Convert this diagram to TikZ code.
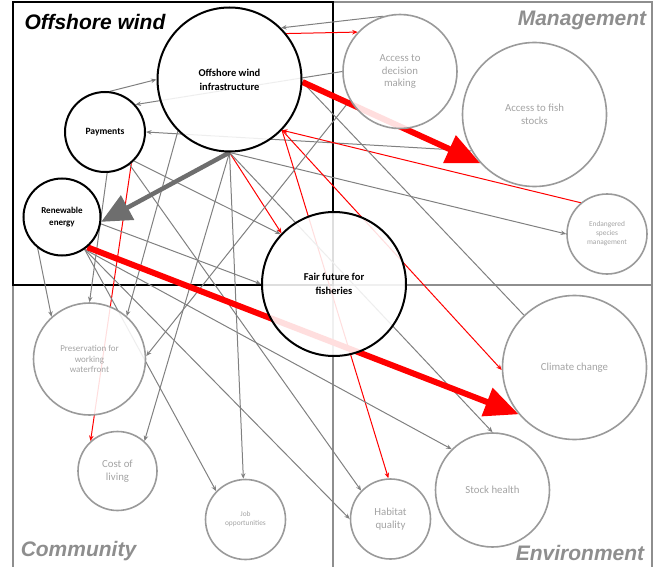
\documentclass[tikz,border=0pt]{standalone}
\usepackage{fontspec}
\setmainfont{Carlito}
\newfontfamily\labfont{Liberation Sans}
\usetikzlibrary{arrows.meta}
\pgfdeclarelayer{bg}
\pgfsetlayers{bg,main}
\definecolor{edgegray}{HTML}{808080}
\definecolor{circgray}{HTML}{9A9A9A}
\definecolor{txtgray}{HTML}{A4A4A4}
\definecolor{quadgray}{HTML}{8E8E8E}
\definecolor{thickg}{HTML}{6E6E6E}
\tikzset{
  blk/.style={circle,draw=black,line width=2pt,fill=white,fill opacity=0.87,text opacity=1,inner sep=0pt,align=center,font=\bfseries\fontsize{10.5}{14}\selectfont},
  gry/.style={circle,draw=circgray,line width=1.6pt,fill=white,fill opacity=0.87,text opacity=1,inner sep=0pt,align=center,text=txtgray,font=\fontsize{10.8}{12.8}\selectfont},
  ge/.style={draw=edgegray,line width=1pt,-{Stealth[length=5.5pt,width=4.5pt]}},
  gl/.style={draw=edgegray,line width=1pt},
  rd/.style={draw=red,line width=1pt,-{Stealth[length=5.5pt,width=4.5pt]}},
  thickred/.style={draw=red,line width=6pt,-{Triangle[length=34pt,width=29pt]}},
  thickgray/.style={draw=thickg,line width=4.5pt,-{Triangle[length=30pt,width=27pt]}},
  quad/.style={font=\labfont\bfseries\itshape\fontsize{21}{21}\selectfont,inner sep=0pt}
}
\begin{document}
\begin{tikzpicture}[x=1pt,y=-1pt]
\useasboundingbox (0,0) rectangle (661,567);
% nodes
\node[blk,minimum size=144pt] (owi) at (229.5,79.5) {Offshore wind\\infrastructure};
\node[blk,minimum size=80pt,font=\bfseries\fontsize{9.6}{12}\selectfont] (pay) at (105,132) {Payments};
\node[blk,minimum size=77pt,font=\bfseries\fontsize{9}{11.5}\selectfont] (re) at (62,217) {Renewable\\energy};
\node[blk,minimum size=144pt] (ff) at (334,284) {Fair future for\\fisheries};
\node[gry,minimum size=114pt] (adm) at (400,71.5) {Access to\\decision\\making};
\node[gry,minimum size=144pt] (afs) at (534.5,114.5) {Access to fish\\stocks};
\node[gry,minimum size=80pt,font=\fontsize{7.4}{9}\selectfont] (esm) at (607,234) {Endangered\\species\\management};
\node[gry,minimum size=112pt,font=\fontsize{9}{10.8}\selectfont] (pww) at (89.5,359) {Preservation for\\working\\waterfront};
\node[gry,minimum size=79pt] (col) at (117.5,471) {Cost of\\living};
\node[gry,minimum size=80pt,font=\fontsize{7.4}{9}\selectfont] (job) at (245.5,519.5) {Job\\opportunities};
\node[gry,minimum size=144pt] (cc) at (574.5,367.5) {Climate change};
\node[gry,minimum size=114pt] (sh) at (492.5,490) {Stock health};
\node[gry,minimum size=80pt] (hq) at (390.5,519) {Habitat\\quality};
% quadrant labels
\node[quad,text=black] (lowind) at (95,22) {Offshore wind};
\node[quad,text=quadgray] (lman) at (582,20) {Management};
\node[quad,text=quadgray] (lcom) at (78.5,551) {Community};
\node[quad,text=quadgray] (lenv) at (580,553) {Environment};
\begin{pgfonlayer}{bg}
% grid
\draw[quadgray,line width=1.2pt] (13,575) -- (13,2) -- (652,2) -- (652,575);
\draw[quadgray,line width=1.2pt] (13,285) -- (652,285);
\draw[quadgray,line width=1.2pt] (333,2) -- (333,575);
\draw[black,line width=2.2pt] (13,2) rectangle (333,285);
% thin edges
\draw[ge] (adm.107) -- (owi.45);
\draw[rd] (owi.39) -- (adm.137);
\draw[ge] (adm.180) -- (pay.42);
\draw[ge] (pay.83) -- (owi.180);
\draw[ge] (afs.-150) -- (pay.0);
\draw[rd] (esm.130) -- (owi.-44);
\draw[ge] (owi.south) -- (esm.180);
\draw[gl] (owi.-2) -- (cc.134);
\draw[rd] (owi.-44) -- (cc.182);
\draw[rd] (owi.-44) -- (hq.93);
\draw[rd] (owi.south) -- (ff.136);
\draw[ge] (pay.-45) -- (ff.137);
\draw[rd] (pay.-50) -- (col.132);
\draw[ge] (pay.-87) -- (pww.90);
\draw[ge] (re.-128) -- (pww.132);
\draw[ge] (owi.-135) -- (pww.49);
\draw[ge] (adm.-150) -- (pww.3);
\draw[ge] (owi.south) -- (col.48);
\draw[ge] (owi.south) -- (job.93);
\draw[ge] (re.-55) -- (job.136);
\draw[ge] (re.-10) -- (ff.180);
\draw[ge] (owi.south) -- (sh.90);
\draw[ge] (re.-55) -- (sh.135);
\draw[ge] (pay.-53) -- (hq.136);
\draw[ge] (re.-55) -- (hq.180);
% thick edges
\draw[thickred] (owi.-2) -- (afs.-138);
\draw[thickgray] (owi.south) -- (re.-7);
\draw[thickred] (re.-50) -- (cc.-140);
\end{pgfonlayer}
\end{tikzpicture}
\end{document}
